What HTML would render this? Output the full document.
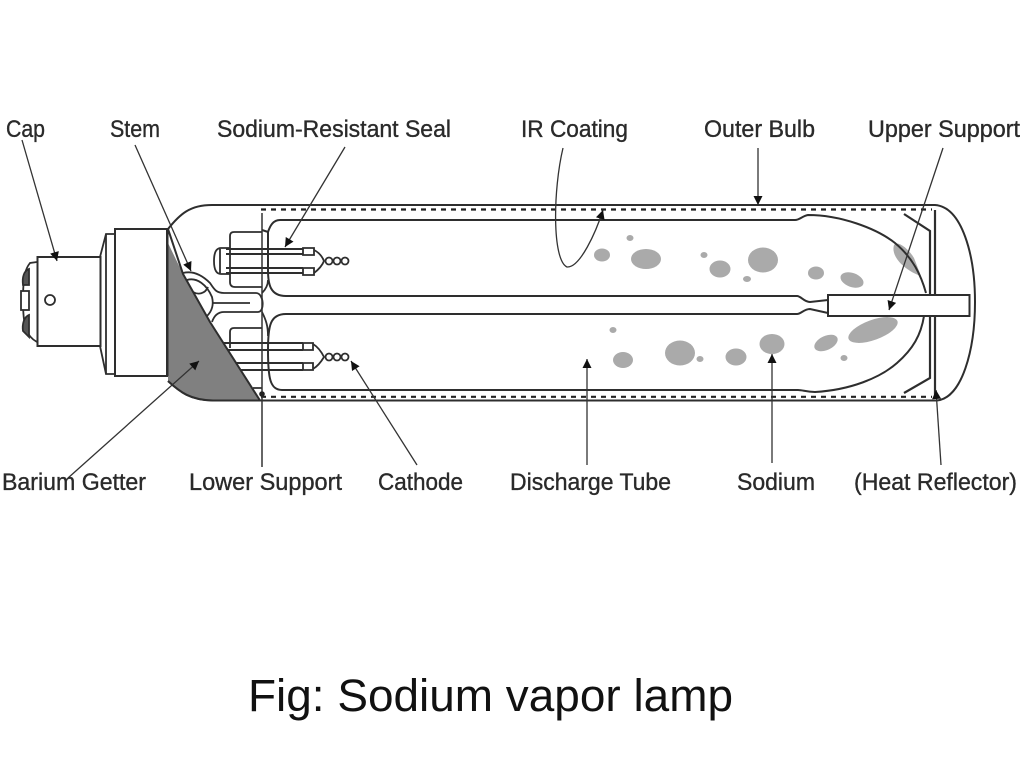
<!DOCTYPE html>
<html><head><meta charset="utf-8"><style>
html,body{margin:0;padding:0;background:#fff;width:1024px;height:768px;overflow:hidden}
svg{display:block}
text{font-family:"Liberation Sans",sans-serif;fill:#2a2a2a}
.d{filter:blur(.35px)}
</style></head><body>
<svg width="1024" height="768" viewBox="0 0 1024 768" xmlns="http://www.w3.org/2000/svg">
<defs>
<marker id="a" viewBox="0 0 10 10" refX="10" refY="5" markerWidth="12" markerHeight="9" markerUnits="userSpaceOnUse" orient="auto"><path d="M0,0L10,5L0,10z" fill="#111"/></marker>
</defs>
<rect width="1024" height="768" fill="#fff"/>
<g class="d">
<!-- blobs -->
<g fill="#aaa">
<ellipse cx="602" cy="255" rx="8" ry="6.500"/>
<ellipse cx="630" cy="238" rx="3.500" ry="3"/>
<ellipse cx="646" cy="259" rx="15" ry="10"/>
<ellipse cx="704" cy="255" rx="3.500" ry="3"/>
<ellipse cx="720" cy="269" rx="10.500" ry="8.500"/>
<ellipse cx="763" cy="260" rx="15" ry="12.500"/>
<ellipse cx="747" cy="279" rx="4" ry="3"/>
<ellipse cx="816" cy="273" rx="8" ry="6.500"/>
<ellipse cx="852" cy="280" rx="12" ry="7" transform="rotate(20 852 280)"/>
<path d="M894,245C897,240 908,248 914,258L921,276C908,272 890,258 894,245z"/>
<ellipse cx="613" cy="330" rx="3.500" ry="3"/>
<ellipse cx="623" cy="360" rx="10" ry="8"/>
<ellipse cx="680" cy="353" rx="15" ry="12.500"/>
<ellipse cx="700" cy="359" rx="3.500" ry="3"/>
<ellipse cx="736" cy="357" rx="10.500" ry="8.500"/>
<ellipse cx="772" cy="344" rx="12.500" ry="10"/>
<ellipse cx="826" cy="343" rx="12.500" ry="7" transform="rotate(-25 826 343)"/>
<ellipse cx="844" cy="358" rx="3.500" ry="3"/>
<ellipse cx="873" cy="330" rx="26" ry="10" transform="rotate(-20 873 330)"/>
</g>

<g fill="none" stroke="#2e2e2e" stroke-width="1.800">
<!-- dashed coating -->
<path d="M261,209.500H932M261,396.800H932" stroke="#222" stroke-width="2.200" stroke-dasharray="5,5"/>
<!-- outer bulb -->
<path d="M168,229C180,214 190,205 212,205H935C962,207 975,255 975,302C975,350 962,398 937,400.500H213C190,400 180,392 168,381" stroke-width="2"/>
<!-- cap -->
<rect x="37.500" y="257" width="63" height="89" stroke-width="2"/>
<path d="M37,262L30,263C26,268 23,274 23,300C23,326 26,336 37,342"/>
<path d="M29,269C24,271 22,277 23,285H29z" fill="#555"/>
<path d="M29,315C24,317 22,324 23,331L29,337z" fill="#555"/>
<rect x="21" y="291" width="8" height="19" fill="#fff"/>
<circle cx="50" cy="300" r="5"/>
<path d="M100,257L106,234H115M100,346L106,374H115"/>
<path d="M106,234V374"/>
<rect x="115" y="229" width="52" height="147" stroke-width="2"/>
<!-- stem -->
<path d="M183,273C195,270 204,277 210,283C214,289 216,293 224,293H256C264,293 265,312 258,312H224C218,312 214,316 212,322"/>
<path d="M187,280C197,277 207,285 212,297C214,305 212,311 207,316"/>
<path d="M193,292C198,295 205,294 208,287M213,303H250"/>
<!-- mounts -->
<path d="M262,232H234Q230,232 230,236V282Q230,287 235,287H262"/>
<path d="M262,328H234Q230,328 230,332V348M253,388L262,388"/>
<path d="M230,248H221C216,248 214,253 214,261C214,269 216,274 221,274H230M220,249V273"/>
<path d="M226,249H303M226,254H303M226,268H303M226,273H303" stroke-width="1.900"/>
<path d="M215,343H303M215,350H303M225,363H303M225,370H303" stroke-width="1.900"/>
<path d="M303,248h11v7h-11zM303,268h11v7h-11zM303,343h10v7h-10zM303,363h10v7h-10z" fill="#fff"/>
<path d="M314,250C318,252 322,256 324,261C322,266 318,270 314,273"/>
<path d="M313,344C318,347 321,351 324,357C321,362 318,366 313,369"/>
<g fill="#fff" stroke-width="1.800">
<circle cx="329" cy="261" r="3.500"/><circle cx="337" cy="261" r="3.500"/><circle cx="345" cy="261" r="3.500"/>
<circle cx="329" cy="357" r="3.500"/><circle cx="337" cy="357" r="3.500"/><circle cx="345" cy="357" r="3.500"/>
</g>
<!-- discharge tube -->
<path d="M262,230L268,232C270,226 273,220 280,220H795C800,220 802,216 808,215C840,215 876,228 895,243C913,258 921,275 926,293" stroke-width="2"/>
<path d="M268,232V270C268,284 270,296 286,296H797C801,296 804,302 810,302L828,300" stroke-width="2"/>
<path d="M286,314C270,314 268,326 268,350C268,378 270,390 282,390H798C803,390 806,392 815,392C850,390 880,378 897,363C913,349 921,335 924,316" stroke-width="2"/>
<path d="M286,314H797C801,314 804,309 810,309L828,313" stroke-width="2"/>
<path d="M262,312C266,320 268,326 268,336"/>
<path d="M262,293C265,290 268,286 268,280"/>
<rect x="828" y="295" width="141.500" height="21" fill="#fff" stroke-width="2"/>
<!-- reflector -->
<path d="M904,214L930,231V294M930,316V378L904,393" stroke-width="2.200"/>
<path d="M935,210V295M935,316V396" stroke-width="2.200"/>
</g>

<!-- grey getter, drawn over stem and mount ends -->
<path d="M168,229V381C180,392 190,400 213,400.500H260L210,322L183,274z" fill="#fff"/>
<path d="M168,243L183,274L210,322L260,400.500H213C190,400 180,392 168,381z" fill="#808080"/>
<path d="M168,229L183,274L210,322L260,400.500H213C190,400 180,392 168,381" fill="none" stroke="#2e2e2e" stroke-width="2"/>
<rect x="167" y="229" width="1.500" height="147" fill="#2e2e2e"/>

<!-- leader lines -->
<g fill="none" stroke="#333" stroke-width="1.300" marker-end="url(#a)">
<path d="M22,140L57,261"/>
<path d="M135,145L191,271"/>
<path d="M345,147L285,247"/>
<path d="M563,148C553,190 552,260 567,267C580,268 596,232 603,210"/>
<path d="M758,148V205"/>
<path d="M943,148L889,310"/>
<path d="M68,478L199,361"/>
<path d="M417,465L351,361"/>
<path d="M587,465V359"/>
<path d="M772,463V354"/>
<path d="M941,465L936,390"/>
</g>
<path d="M262,213V467" stroke="#333" stroke-width="1.500" fill="none"/>
<circle cx="262" cy="394" r="2.800" fill="#222"/>
</g>

<!-- labels -->
<g font-size="24" style="stroke:#2a2a2a;stroke-width:.35">
<text x="6" y="137" textLength="39" lengthAdjust="spacingAndGlyphs">Cap</text>
<text x="110" y="137" textLength="50" lengthAdjust="spacingAndGlyphs">Stem</text>
<text x="217" y="137" textLength="234" lengthAdjust="spacingAndGlyphs">Sodium-Resistant Seal</text>
<text x="521" y="137" textLength="107" lengthAdjust="spacingAndGlyphs">IR Coating</text>
<text x="704" y="137" textLength="111" lengthAdjust="spacingAndGlyphs">Outer Bulb</text>
<text x="868" y="137" textLength="152" lengthAdjust="spacingAndGlyphs">Upper Support</text>
<text x="2" y="490" textLength="144" lengthAdjust="spacingAndGlyphs">Barium Getter</text>
<text x="189" y="490" textLength="153" lengthAdjust="spacingAndGlyphs">Lower Support</text>
<text x="378" y="490" textLength="85" lengthAdjust="spacingAndGlyphs">Cathode</text>
<text x="510" y="490" textLength="161" lengthAdjust="spacingAndGlyphs">Discharge Tube</text>
<text x="737" y="490" textLength="78" lengthAdjust="spacingAndGlyphs">Sodium</text>
<text x="854" y="490" textLength="163" lengthAdjust="spacingAndGlyphs">(Heat Reflector)</text>
</g>
<text x="248" y="711" font-size="45" textLength="485" lengthAdjust="spacingAndGlyphs" style="fill:#111">Fig: Sodium vapor lamp</text>
</svg>
</body></html>
